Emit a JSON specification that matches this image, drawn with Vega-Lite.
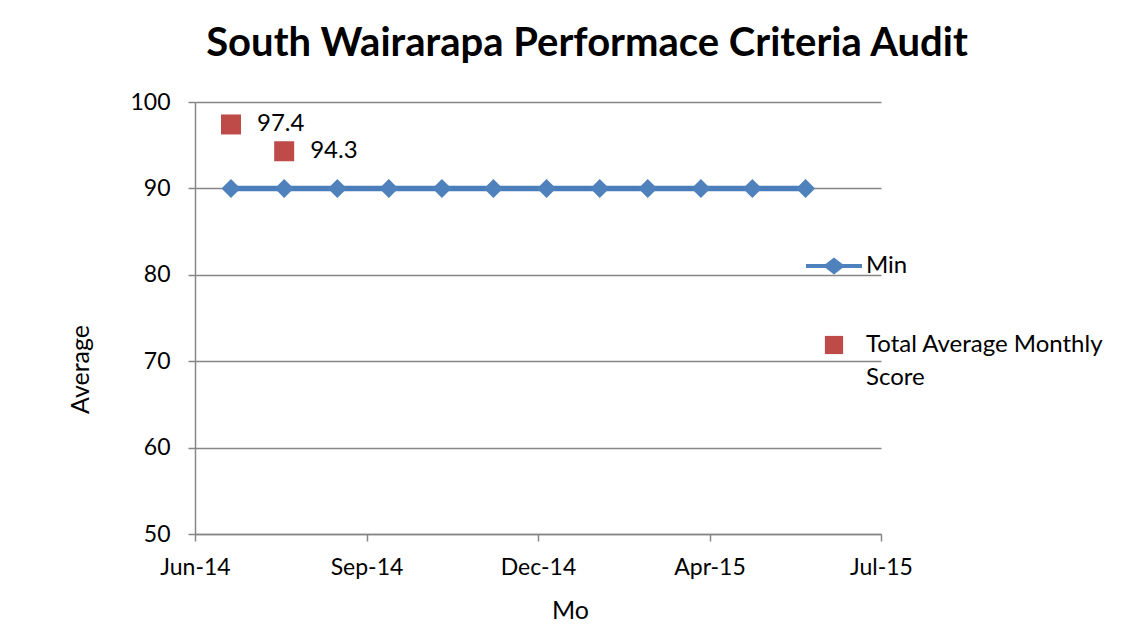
{
  "$schema": "https://vega.github.io/schema/vega-lite/v6.json",
  "width": 686,
  "height": 432,
  "autosize": "none",
  "padding": {"left": 195, "top": 102, "right": 251, "bottom": 103},
  "background": "white",
  "config": {
    "font": "Lato",
    "view": {"stroke": null},
    "legend": {"padding": 0},
    "style": {"guide-label": {"lineHeight": 33}}
  },
  "title": {
    "text": "South Wairarapa Performace Criteria Audit",
    "fontSize": 40,
    "fontWeight": "bold",
    "color": "black",
    "font": "Lato",
    "anchor": "middle",
    "dx": 49,
    "baseline": "alphabetic",
    "offset": -5
  },
  "data": {
    "values": [
      {"date": "2014-07-01", "value": 90, "series": "Min"},
      {"date": "2014-08-01", "value": 90, "series": "Min"},
      {"date": "2014-09-01", "value": 90, "series": "Min"},
      {"date": "2014-10-01", "value": 90, "series": "Min"},
      {"date": "2014-11-01", "value": 90, "series": "Min"},
      {"date": "2014-12-01", "value": 90, "series": "Min"},
      {"date": "2015-01-01", "value": 90, "series": "Min"},
      {"date": "2015-02-01", "value": 90, "series": "Min"},
      {"date": "2015-03-01", "value": 90, "series": "Min"},
      {"date": "2015-04-01", "value": 90, "series": "Min"},
      {"date": "2015-05-01", "value": 90, "series": "Min"},
      {"date": "2015-06-01", "value": 90, "series": "Min"},
      {"date": "2014-07-01", "value": 97.4, "series": "Total Average Monthly Score"},
      {"date": "2014-08-01", "value": 94.3, "series": "Total Average Monthly Score"}
    ]
  },
  "encoding": {
    "x": {
      "field": "date",
      "type": "temporal",
      "scale": {
        "type": "utc",
        "domain": [
          {"year": 2014, "month": 6, "date": 10, "utc": true},
          {"year": 2015, "month": 7, "date": 15, "utc": true}
        ]
      },
      "axis": {
        "values": [
          {"year": 2014, "month": 6, "date": 10, "utc": true},
          {"year": 2014, "month": 9, "date": 18, "utc": true},
          {"year": 2014, "month": 12, "date": 27, "utc": true},
          {"year": 2015, "month": 4, "date": 6, "utc": true},
          {"year": 2015, "month": 7, "date": 15, "utc": true}
        ],
        "labelExpr": "utcFormat(datum.value, '%b-%y')",
        "grid": false,
        "domainColor": "#868686",
        "domainWidth": 1.5,
        "tickColor": "#868686",
        "tickWidth": 1.5,
        "tickSize": 7,
        "labelFontSize": 23,
        "labelColor": "black",
        "labelPadding": 15,
        "labelFlush": false,
        "labelOverlap": false,
        "title": "Mo",
        "titleFontSize": 25,
        "titleFontWeight": "normal",
        "titleColor": "black",
        "titleX": 375,
        "titleY": 84,
        "titleAlign": "center",
        "titleBaseline": "alphabetic"
      }
    },
    "y": {
      "field": "value",
      "type": "quantitative",
      "scale": {"domain": [50, 100], "nice": false, "zero": false},
      "axis": {
        "values": [50, 60, 70, 80, 90, 100],
        "grid": true,
        "gridColor": "#868686",
        "gridWidth": 1.5,
        "domainColor": "#868686",
        "domainWidth": 1.5,
        "tickColor": "#868686",
        "tickWidth": 1.5,
        "tickSize": 7,
        "labelFontSize": 23,
        "labelColor": "black",
        "labelPadding": 18,
        "title": "Average",
        "titleFontSize": 25,
        "titleFontWeight": "normal",
        "titleColor": "black",
        "titleAngle": -90,
        "titleX": -102,
        "titleY": 267,
        "titleAlign": "center",
        "titleBaseline": "bottom"
      }
    }
  },
  "layer": [
    {
      "transform": [{"filter": "datum.series == 'Min'"}],
      "mark": {"type": "line", "strokeWidth": 5.5, "color": "#4A7EBB"}
    },
    {
      "transform": [{"filter": "datum.series == 'Min'"}],
      "mark": {"type": "point", "shape": "diamond", "filled": true, "size": 361, "opacity": 1, "strokeWidth": 0},
      "encoding": {
        "fill": {
          "field": "series",
          "type": "nominal",
          "scale": {"domain": ["Min"], "range": ["#4F81BD"]},
          "legend": {
            "orient": "none",
            "legendX": 625,
            "legendY": 150,
            "title": null,
            "labelFontSize": 24,
            "labelColor": "black",
            "symbolSize": 784,
            "symbolType": "M-2,-0.15L-0.6,-0.15L0,-0.6L0.6,-0.15L2,-0.15L2,0.15L0.6,0.15L0,0.6L-0.6,0.15L-2,0.15Z",
            "symbolStrokeWidth": 0,
            "symbolOpacity": 1,
            "labelOffset": 18
          }
        }
      }
    },
    {
      "transform": [{"filter": "datum.series != 'Min'"}],
      "mark": {"type": "point", "shape": "square", "filled": true, "size": 400, "opacity": 1},
      "encoding": {
        "color": {
          "field": "series",
          "type": "nominal",
          "scale": {"domain": ["Total Average Monthly Score"], "range": ["#BE4B48"]},
          "legend": {
            "orient": "none",
            "legendX": 625,
            "legendY": 229,
            "title": null,
            "labelFontSize": 24,
            "labelColor": "black",
            "symbolSize": 784,
            "symbolType": "M-0.65,-0.65L0.65,-0.65L0.65,0.65L-0.65,0.65Z",
            "symbolStrokeWidth": 0,
            "symbolOpacity": 1,
            "labelOffset": 18,
            "labelLimit": 400,
            "labelExpr": "datum.label == 'Total Average Monthly Score' ? ['Total Average Monthly', 'Score'] : datum.label"
          }
        }
      }
    },
    {
      "transform": [{"filter": "datum.series != 'Min'"}],
      "mark": {"type": "text", "align": "left", "dx": 26, "baseline": "middle", "fontSize": 24, "color": "black"},
      "encoding": {
        "text": {"field": "value", "type": "quantitative", "format": ".1f"}
      }
    }
  ]
}
